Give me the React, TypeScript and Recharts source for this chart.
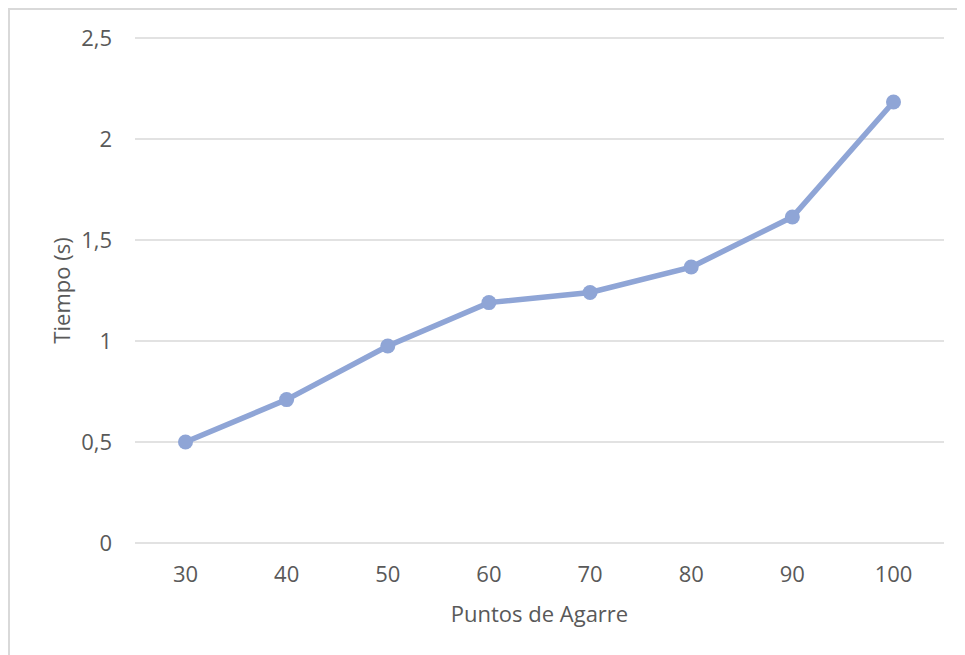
import React from 'react';
import { LineChart, Line, XAxis, YAxis, CartesianGrid, Label } from 'recharts';

// Tiempo de cálculo según el número de puntos de agarre
const puntos: string[] = ['30', '40', '50', '60', '70', '80', '90', '100'];
const tiempos: number[] = [0.5, 0.71, 0.975, 1.19, 1.24, 1.366, 1.614, 2.183];
const yTicks: number[] = [0, 0.5, 1, 1.5, 2, 2.5];

const data = puntos.map((p, i) => ({ puntos: p, tiempo: tiempos[i] }));

const FONT = '"Open Sans", "DejaVu Sans", sans-serif';
const TEXT = '#595959';
const GRID = '#d9d9d9';
const SERIE = '#8fa5d6';
const FS = 22;

const fmt = (v: number) => String(v).replace('.', ',');

export default function App() {
  return (
    <div
      style={{
        width: 955,
        height: 645,
        borderLeft: `2px solid ${GRID}`,
        borderTop: `2px solid ${GRID}`,
        background: '#fff',
        fontFamily: FONT,
      }}
    >
      <LineChart
        width={955}
        height={645}
        data={data}
        margin={{ top: 28, right: 21, bottom: 52, left: 0 }}
      >
        <CartesianGrid vertical={false} stroke={GRID} strokeWidth={1.5} />
        <XAxis
          dataKey="puntos"
          height={60}
          axisLine={false}
          tickLine={false}
          tickSize={0}
          tickMargin={23}
          padding={{ left: 50.5, right: 50.5 }}
          tick={{ fill: TEXT, fontSize: FS, fontFamily: FONT }}
        >
          <Label
            content={({ viewBox }: any) => (
              <text
                x={viewBox.x + viewBox.width / 2}
                y={viewBox.y + 70}
                textAnchor="middle"
                dominantBaseline="central"
                fill={TEXT}
                fontSize={FS}
                fontFamily={FONT}
              >
                Puntos de Agarre
              </text>
            )}
          />
        </XAxis>
        <YAxis
          width={125}
          domain={[0, 2.5]}
          ticks={yTicks}
          axisLine={false}
          tickLine={false}
          tickSize={0}
          tickMargin={23}
          tickFormatter={fmt}
          tick={{ fill: TEXT, fontSize: FS, fontFamily: FONT }}
        >
          <Label
            content={({ viewBox }: any) => {
              const cx = 51;
              const cy = viewBox.y + viewBox.height / 2;
              return (
                <text
                  x={cx}
                  y={cy}
                  transform={`rotate(-90 ${cx} ${cy})`}
                  textAnchor="middle"
                  dominantBaseline="central"
                  fill={TEXT}
                  fontSize={FS}
                  fontFamily={FONT}
                >
                  Tiempo (s)
                </text>
              );
            }}
          />
        </YAxis>
        <Line
          type="linear"
          dataKey="tiempo"
          stroke={SERIE}
          strokeWidth={5.5}
          dot={{ r: 7.5, fill: SERIE, stroke: 'none' }}
          activeDot={false}
          isAnimationActive={false}
        />
      </LineChart>
    </div>
  );
}
